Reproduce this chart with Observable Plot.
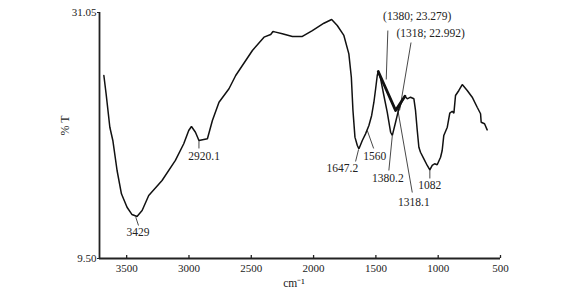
<!DOCTYPE html>
<html>
<head>
<meta charset="utf-8">
<script src="https://cdn.jsdelivr.net/npm/d3@7"></script>
<script src="https://cdn.jsdelivr.net/npm/@observablehq/plot@0.6"></script>
<style>
  html, body { margin: 0; padding: 0; background: #fff; }
  #chart svg { display: block; }
</style>
</head>
<body>
<div id="chart"></div>
<script>
// Spectrum (wavenumber in cm^-1, transmittance %T)
const wavenumber = [3683,3665,3635,3611,3577,3542,3497,3457,3417,3376,3323,3216,3109,3042,3002,2980,2948,2920,2852,2812,2759,2679,2625,2491,2398,2344,2326,2304,2251,2170,2090,2010,1917,1855,1810,1757,1717,1697,1684,1668,1649,1636,1609,1583,1556,1534,1516,1502,1489,1481,1462,1436,1409,1382,1368,1342,1316,1288,1267,1248,1222,1195,1182,1168,1155,1142,1115,1088,1067,1048,1029,1008,981,968,955,927,907,887,874,861,834,807,767,727,687,660,655,628,607];
const transmittance = [25.53,23.93,21.00,19.84,17.21,15.17,13.99,13.35,13.18,13.70,15.02,16.33,18.09,19.55,20.71,21.06,20.56,19.84,19.99,21.59,23.19,24.37,25.53,27.72,28.89,29.12,29.39,29.33,29.18,28.95,28.95,29.47,30.11,30.44,29.91,29.04,27.43,25.38,22.47,20.13,19.40,19.11,19.84,20.42,21.15,22.03,23.19,24.37,25.53,25.88,25.24,23.78,22.32,20.56,20.28,21.44,22.61,23.34,23.72,23.49,23.63,23.49,22.47,20.71,19.25,18.81,18.23,17.65,17.27,17.65,17.80,17.71,18.37,18.96,20.28,21.00,22.23,22.40,22.23,23.78,24.22,24.74,24.22,23.63,22.75,22.18,21.44,21.30,20.77];

// Thick baseline segment
const baseWn = [1481,1342,1267];
const baseT = [25.88,22.47,23.72];

// Peak annotations
const peakLabels = ["3429","2920.1","1647.2","1560","1380.2","1318.1","1082","(1380; 23.279)","(1318; 22.992)"];
const labelWn = [3409,2878,1769,1510,1404,1195,1067,1168,1061];
const labelT = [11.80,18.44,17.36,18.46,16.53,14.38,15.90,30.73,29.27];
const leadWn1 = [3427,2920,1639,1569,1368,1326,1067,1404,1218];
const leadT1  = [13.12,19.84,19.05,20.71,20.28,22.64,17.27,29.47,28.42];
const leadWn2 = [3405,2920,1663,1518,1396,1208,1067,1417,1310];
const leadT2  = [12.39,19.14,18.00,19.14,17.21,15.28,16.51,25.18,22.47];

// Axes
const xDomain = [3718, 500];
const yDomain = [9.5, 31.05];
const xTicks = [3500,3000,2500,2000,1500,1000,500];
const yTicks = [9.5, 31.05];
const xTitle = "cm\u207B\u00B9";
const yTitle = "% T";

const spectrum = wavenumber.map((w, i) => ({w, t: transmittance[i]}));
const baseline = baseWn.map((w, i) => ({w, t: baseT[i]}));
const notes = peakLabels.map((s, i) => ({s, w: labelWn[i], t: labelT[i],
  w1: leadWn1[i], t1: leadT1[i], w2: leadWn2[i], t2: leadT2[i]}));

const font = "'Liberation Serif', 'Times New Roman', serif";

const chart = Plot.plot({
  width: 580,
  height: 293,
  marginLeft: 99,
  marginRight: 80,
  marginTop: 12,
  marginBottom: 35,
  style: {fontFamily: font, fontSize: "11px", color: "#222", background: "#fff"},
  x: {domain: xDomain, reverse: false},
  y: {domain: yDomain},
  marks: [
    Plot.axisX({ticks: xTicks, tickFormat: d3.format("d"), tickSize: 0, tickPadding: 6, label: null, fontSize: 11}),
    Plot.axisX({ticks: xTicks, text: null, tickSize: 3, dy: -3, label: null, strokeWidth: 1.3}),
    Plot.axisY({ticks: yTicks, tickFormat: d3.format(".2f"), tickSize: 2, tickPadding: 1, label: null, fontSize: 11}),
    Plot.ruleX([xDomain[0]], {stroke: "#222", strokeWidth: 1.8}),
    Plot.ruleY([yDomain[0]], {stroke: "#222", strokeWidth: 1.8}),
    Plot.link(notes, {x1: "w1", y1: "t1", x2: "w2", y2: "t2", stroke: "#333", strokeWidth: 0.9}),
    Plot.line(spectrum, {x: "w", y: "t", stroke: "#111", strokeWidth: 1.5, strokeLinejoin: "miter"}),
    Plot.line(baseline, {x: "w", y: "t", stroke: "#111", strokeWidth: 2.8}),
    Plot.text(notes, {x: "w", y: "t", text: "s", fontSize: 11.5, fill: "#222"}),
    Plot.text([yTitle], {frameAnchor: "left", rotate: -90, dx: -34, fontSize: 12, fill: "#222"}),
    Plot.text([xTitle], {frameAnchor: "bottom", dy: 28, dx: -6, fontSize: 11.5, fill: "#222"})
  ]
});
document.getElementById("chart").append(chart);
</script>
</body>
</html>
